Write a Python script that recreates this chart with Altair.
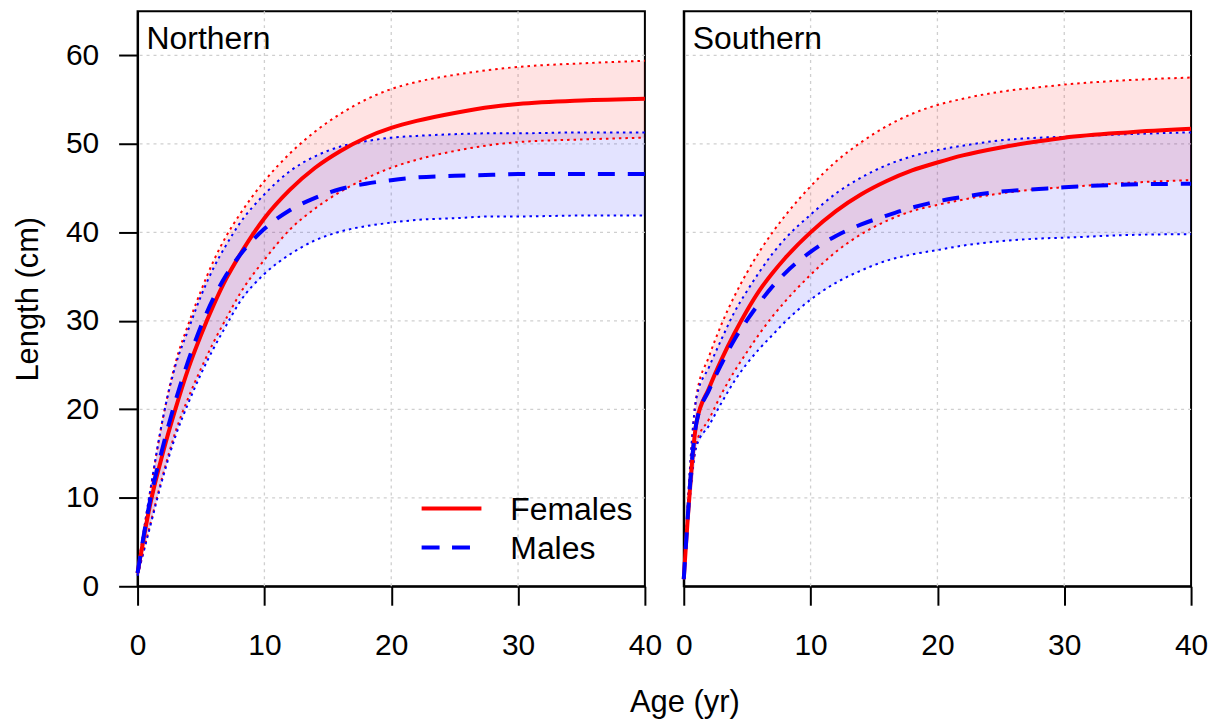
import altair as alt
import pandas as pd

FONT = "Liberation Sans"

# ---------------- data ----------------
ages = [0, 1, 2, 3, 4, 5, 6, 7, 8, 10, 12, 14, 16, 18, 20, 22, 25, 28, 30, 35, 40]

# Northern
n_f_fit = [1.5, 9.3, 15.1, 20.1, 24.6, 28.4, 31.8, 34.8, 37.3, 41.6, 44.8, 47.3, 49.2, 50.7, 51.8, 52.6, 53.5, 54.2, 54.5, 54.9, 55.1]
n_f_lo = [1.3, 7.0, 12.6, 17.5, 21.3, 24.6, 27.6, 30.3, 32.9, 36.9, 40.3, 42.7, 44.6, 46.1, 47.3, 48.2, 49.2, 49.9, 50.2, 50.5, 50.7]
n_f_hi = [1.7, 10.8, 19.0, 25.3, 29.6, 33.4, 36.8, 39.6, 41.9, 45.8, 48.9, 51.4, 53.4, 55.0, 56.2, 57.0, 57.8, 58.4, 58.7, 59.1, 59.4]
n_m_fit = [1.5, 9.8, 15.8, 21.0, 25.5, 29.4, 32.6, 35.2, 37.3, 40.4, 42.5, 43.9, 44.9, 45.5, 45.9, 46.2, 46.4, 46.5, 46.6, 46.6, 46.6]
n_m_lo = [1.2, 6.8, 12.3, 17.0, 20.7, 24.0, 26.9, 29.5, 32.0, 35.3, 37.5, 39.1, 40.1, 40.7, 41.1, 41.4, 41.6, 41.8, 41.8, 41.9, 41.9]
n_m_hi = [1.8, 10.8, 19.0, 25.0, 29.0, 32.8, 36.0, 38.6, 40.9, 44.3, 46.9, 48.6, 49.7, 50.3, 50.7, 50.9, 51.1, 51.2, 51.2, 51.3, 51.3]

# Southern
s_f_fit = [0.8, 18.5, 22.4, 25.7, 28.6, 31.2, 33.5, 35.4, 37.1, 40.0, 42.4, 44.3, 45.8, 47.0, 47.9, 48.7, 49.6, 50.3, 50.7, 51.3, 51.7]
s_f_lo = [0.8, 16.2, 18.9, 21.8, 24.3, 26.5, 28.6, 30.5, 32.2, 35.2, 37.8, 39.8, 41.3, 42.4, 43.1, 43.7, 44.4, 44.9, 45.1, 45.6, 45.9]
s_f_hi = [0.8, 21.5, 26.0, 29.7, 32.8, 35.5, 37.9, 40.0, 41.9, 45.2, 48.0, 50.2, 52.0, 53.4, 54.4, 55.1, 55.9, 56.4, 56.7, 57.2, 57.5]
s_m_fit = [0.8, 18.5, 22.2, 25.2, 27.9, 30.1, 32.1, 33.9, 35.4, 37.8, 39.6, 40.9, 41.9, 42.8, 43.5, 44.0, 44.6, 44.9, 45.1, 45.4, 45.5]
s_m_lo = [0.8, 15.8, 18.2, 20.8, 23.2, 25.2, 26.9, 28.4, 29.9, 32.4, 34.3, 35.7, 36.8, 37.5, 38.0, 38.5, 39.0, 39.3, 39.4, 39.7, 39.8]
s_m_hi = [0.8, 21.3, 24.8, 28.0, 31.0, 33.4, 35.6, 37.6, 39.3, 42.0, 44.4, 46.2, 47.6, 48.6, 49.3, 49.8, 50.4, 50.7, 50.8, 51.1, 51.3]

x_ticks = [0, 10, 20, 30, 40]
y_ticks = [0, 10, 20, 30, 40, 50, 60]
grid_x = [10, 20, 30]
grid_y = [10, 20, 30, 40, 50, 60]
legend_labels = ["Females", "Males"]
panel_names = ["Northern", "Southern"]


def make_df(fit, lo, hi):
    return pd.DataFrame({"age": ages, "fit": fit, "lo": lo, "hi": hi})


W, H = 509, 577
XS = alt.Scale(domain=[0, 40], nice=False, zero=False)
YS = alt.Scale(domain=[0, 65], nice=False, zero=False)
GRID_COLOR = "#cfcfcf"

x_axis = alt.Axis(values=x_ticks, title=None, grid=False, domain=True, domainColor="black",
                  domainWidth=2, ticks=True, tickSize=19, tickWidth=2, tickColor="black",
                  labelFontSize=30, labelFont=FONT, labelColor="black", labelPadding=25,
                  labelFlush=False)
y_axis_left = alt.Axis(values=y_ticks, title="Length (cm)", grid=False, domain=True,
                       domainColor="black", domainWidth=2, ticks=True, tickSize=19,
                       tickWidth=2, tickColor="black", labelFontSize=30, labelFont=FONT,
                       labelColor="black", labelPadding=20, titleFont=FONT,
                       titleFontSize=31, titleFontWeight="normal", titleColor="black",
                       titlePadding=21)
y_axis_right = alt.Axis(values=y_ticks, title=None, grid=False, domain=True,
                        domainColor="black", domainWidth=2, ticks=False, labels=False)


def panel(name, fdf, mdf, left):
    yax = y_axis_left if left else y_axis_right
    base_f = alt.Chart(fdf)
    base_m = alt.Chart(mdf)

    def xe(field="age"):
        return alt.X(f"{field}:Q", scale=XS, axis=x_axis)

    def ye(field):
        return alt.Y(f"{field}:Q", scale=YS, axis=yax)

    gx = alt.Chart(pd.DataFrame({"gx": grid_x})).mark_rule(
        color=GRID_COLOR, strokeWidth=1.3, strokeDash=[3, 4]).encode(x=xe("gx"))
    gy = alt.Chart(pd.DataFrame({"gy": grid_y})).mark_rule(
        color=GRID_COLOR, strokeWidth=1.3, strokeDash=[3, 4]).encode(y=ye("gy"))

    band_f = base_f.mark_area(color="red", opacity=0.11).encode(
        x=xe(), y=ye("lo"), y2="hi:Q")
    band_m = base_m.mark_area(color="blue", opacity=0.11).encode(
        x=xe(), y=ye("lo"), y2="hi:Q")

    def ln(base, field, color, dash, width):
        kw = dict(color=color, strokeWidth=width, interpolate="monotone")
        if dash:
            kw["strokeDash"] = dash
        return base.mark_line(**kw).encode(x=xe(), y=ye(field))

    layers = [
        gx, gy,
        band_f, band_m,
        ln(base_f, "lo", "red", [2.5, 4], 2), ln(base_f, "hi", "red", [2.5, 4], 2),
        ln(base_m, "lo", "blue", [2.5, 4], 2), ln(base_m, "hi", "blue", [2.5, 4], 2),
        ln(base_f, "fit", "red", None, 4),
        ln(base_m, "fit", "blue", [17, 13], 4),
    ]

    lab = alt.Chart(pd.DataFrame({"t": [name]})).mark_text(
        font=FONT, fontSize=32, color="black", align="left", baseline="alphabetic"
    ).encode(text="t:N", x=alt.value(9), y=alt.value(38))
    layers.append(lab)

    if left:
        leg = pd.DataFrame({"t": legend_labels})
        r1 = alt.Chart(leg).transform_filter(alt.datum.t == "Females").mark_rule(
            color="red", strokeWidth=4).encode(x=alt.value(285), x2=alt.value(345), y=alt.value(499))
        r2 = alt.Chart(leg).transform_filter(alt.datum.t == "Males").mark_rule(
            color="blue", strokeWidth=4, strokeDash=[18, 12.5]).encode(
            x=alt.value(285), x2=alt.value(345), y=alt.value(538))
        t1 = alt.Chart(leg).transform_filter(alt.datum.t == "Females").mark_text(
            font=FONT, fontSize=32, align="left", baseline="alphabetic", color="black").encode(
            text="t:N", x=alt.value(374), y=alt.value(511))
        t2 = alt.Chart(leg).transform_filter(alt.datum.t == "Males").mark_text(
            font=FONT, fontSize=32, align="left", baseline="alphabetic", color="black").encode(
            text="t:N", x=alt.value(374), y=alt.value(550))
        layers += [r1, r2, t1, t2]

    return alt.layer(*layers).properties(width=W, height=H)


left = panel(panel_names[0], make_df(n_f_fit, n_f_lo, n_f_hi), make_df(n_m_fit, n_m_lo, n_m_hi), True)
right = panel(panel_names[1], make_df(s_f_fit, s_f_lo, s_f_hi), make_df(s_m_fit, s_m_lo, s_m_hi), False)

chart = alt.hconcat(left, right, spacing=39, bounds="flush").properties(
    title=alt.TitleParams("Age (yr)", orient="bottom", anchor="middle", fontSize=31,
                          fontWeight="normal", font=FONT, color="black", offset=27, dx=75),
    padding={"left": 3, "top": 0, "right": 5, "bottom": 5},
    background="white",
).configure_view(stroke="black", strokeWidth=2)

chart.save("out.html", embed_options={"renderer": "svg", "actions": False})
